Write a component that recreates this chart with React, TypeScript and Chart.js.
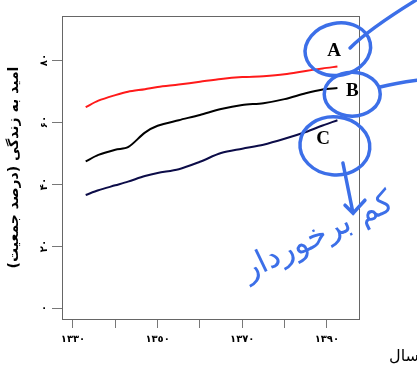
import React, { useEffect, useRef } from 'react';
import { Chart, registerables } from 'chart.js';

Chart.register(...registerables);

// ---- data ----
const years = [1333, 1336, 1340, 1343, 1347, 1350, 1355, 1360, 1365, 1370, 1375, 1380, 1385, 1389, 1392.5];
const seriesA = [64.8, 66.9, 68.7, 69.8, 70.6, 71.3, 72.1, 73.0, 73.9, 74.5, 74.8, 75.4, 76.5, 77.3, 77.9];
const seriesB = [47.3, 49.4, 51.1, 51.9, 56.6, 58.8, 60.6, 62.3, 64.2, 65.5, 66.1, 67.4, 69.3, 70.5, 71.0];
const seriesC = [36.5, 38.0, 39.6, 40.8, 42.6, 43.6, 44.8, 47.2, 50.0, 51.4, 52.7, 54.6, 56.8, 58.9, 60.6];
const seriesNames = ['A', 'B', 'C'];

const xTickValues = [1330, 1340, 1350, 1360, 1370, 1380, 1390];
const xTickLabels = ['١٣٣٠', '', '١٣٥٠', '', '١٣٧٠', '', '١٣٩٠'];
const yTickValues = [0, 20, 40, 60, 80];
const yTickLabels = ['۰', '۲۰', '۴۰', '۶۰', '۸۰'];

const yTitle = 'امید به زندگی (درصد جمعیت)';
const xTitle = 'سال';
const noteText = 'کم برخوردار';

const BLUE = '#3c6fe8';

const framePlugin = {
  id: 'frame',
  beforeDatasetsDraw(chart: any) {
    const { ctx, chartArea: a } = chart;
    ctx.save();
    ctx.strokeStyle = '#666';
    ctx.lineWidth = 1;
    ctx.strokeRect(Math.round(a.left) + 0.5, Math.round(a.top) + 0.5, Math.round(a.width), Math.round(a.height));
    ctx.restore();
  },
};

const notesPlugin = {
  id: 'notes',
  afterDraw(chart: any) {
    const { ctx } = chart;
    const xs = chart.scales.x;
    const ys = chart.scales.y;
    const px = (v: number) => xs.getPixelForValue(v);
    const py = (v: number) => ys.getPixelForValue(v);
    ctx.save();

    // series labels
    ctx.fillStyle = '#000';
    ctx.font = 'bold 19px "Liberation Serif", serif';
    ctx.textAlign = 'center';
    ctx.textBaseline = 'middle';
    const labelPos = [[1391.7, 82.9], [1396.0, 70.0], [1389.1, 54.5]];
    seriesNames.forEach((n, i) => ctx.fillText(n, px(labelPos[i][0]), py(labelPos[i][1])));

    // x title
    ctx.font = '16px "DejaVu Sans", sans-serif';
    ctx.textAlign = 'right';
    ctx.textBaseline = 'alphabetic';
    ctx.fillText(xTitle, chart.width + 2, chart.height - 9);

    // hand-drawn blue marks
    ctx.strokeStyle = BLUE;
    ctx.fillStyle = BLUE;
    ctx.lineWidth = 3.5;
    ctx.lineCap = 'round';
    const ell = (x: number, y: number, rx: number, ry: number, r: number) => {
      ctx.beginPath();
      ctx.ellipse(px(x), py(y), rx, ry, r, 0, Math.PI * 2);
      ctx.stroke();
    };
    ell(1392.6, 83.5, 33, 26, -0.2);
    ell(1396.0, 69.0, 28, 22, 0);
    ell(1391.9, 52.3, 35, 29, 0.1);

    ctx.beginPath();
    ctx.moveTo(px(1395.5), py(83.9));
    ctx.quadraticCurveTo(px(1400), py(90), px(1411.3), py(99.5));
    ctx.stroke();

    ctx.beginPath();
    ctx.moveTo(px(1402.6), py(71.3));
    ctx.quadraticCurveTo(px(1406), py(72.5), px(1411.3), py(73.5));
    ctx.stroke();

    ctx.beginPath();
    ctx.moveTo(px(1393.8), py(46.8));
    ctx.lineTo(px(1396.2), py(30.6));
    ctx.moveTo(px(1394.3), py(33.2));
    ctx.lineTo(px(1396.2), py(30.6));
    ctx.lineTo(px(1399.0), py(34.8));
    ctx.stroke();

    ctx.translate(px(1388.0), py(23.0));
    ctx.rotate(-0.45);
    ctx.font = '32px "DejaVu Sans", sans-serif';
    ctx.textAlign = 'center';
    ctx.textBaseline = 'middle';
    ctx.fillText(noteText, 0, 0);
    ctx.restore();
  },
};

export default function App() {
  const ref = useRef<HTMLCanvasElement | null>(null);
  useEffect(() => {
    const canvas = ref.current;
    if (!canvas) return;
    const mk = (vals: number[]) => years.map((y, i) => ({ x: y, y: vals[i] }));
    const chart = new Chart(canvas, {
      type: 'line',
      data: {
        datasets: [
          { label: seriesNames[0], data: mk(seriesA), borderColor: '#ff1a1a', borderWidth: 2, pointRadius: 0, tension: 0.3 },
          { label: seriesNames[1], data: mk(seriesB), borderColor: '#000000', borderWidth: 2, pointRadius: 0, tension: 0.3 },
          { label: seriesNames[2], data: mk(seriesC), borderColor: '#0c0c48', borderWidth: 2, pointRadius: 0, tension: 0.3 },
        ],
      },
      options: {
        responsive: false,
        animation: false,
        layout: { padding: { left: 0, top: 16, right: 58, bottom: 0 } },
        plugins: { legend: { display: false }, tooltip: { enabled: false } },
        scales: {
          x: {
            type: 'linear',
            min: 1327.4,
            max: 1397.6,
            afterBuildTicks: (s: any) => { s.ticks = xTickValues.map((v) => ({ value: v })); },
            afterFit: (s: any) => { s.height = 51; },
            border: { display: false },
            grid: { drawOnChartArea: false, drawTicks: true, tickLength: 9, color: '#777' },
            ticks: {
              autoSkip: false,
              maxRotation: 0,
              padding: 5,
              color: '#000',
              font: { family: 'DejaVu Sans', size: 10, weight: 'bold' },
              callback: (_v: any, i: number) => xTickLabels[i],
            },
          },
          y: {
            type: 'linear',
            min: -3.5,
            max: 94.2,
            afterBuildTicks: (s: any) => { s.ticks = yTickValues.map((v) => ({ value: v })); },
            afterFit: (s: any) => { s.width = 62; },
            border: { display: false },
            grid: { drawOnChartArea: false, drawTicks: true, tickLength: 10, color: '#777' },
            title: {
              display: true,
              text: yTitle,
              color: '#000',
              padding: { top: 6, bottom: 0 },
              font: { family: 'DejaVu Sans', size: 14, weight: 'bold' },
            },
            ticks: {
              autoSkip: false,
              minRotation: 90,
              maxRotation: 90,
              crossAlign: 'center',
              padding: 1,
              color: '#000',
              font: { family: 'DejaVu Sans', size: 10, weight: 'bold' },
              callback: (_v: any, i: number) => yTickLabels[i],
            },
          },
        },
      },
      plugins: [framePlugin, notesPlugin],
    } as any);
    return () => chart.destroy();
  }, []);
  return (
    <div style={{ position: 'fixed', left: 0, top: 0, width: 417, height: 370, background: '#fff' }}>
      <canvas ref={ref} width={417} height={370} style={{ display: 'block' }} />
    </div>
  );
}
